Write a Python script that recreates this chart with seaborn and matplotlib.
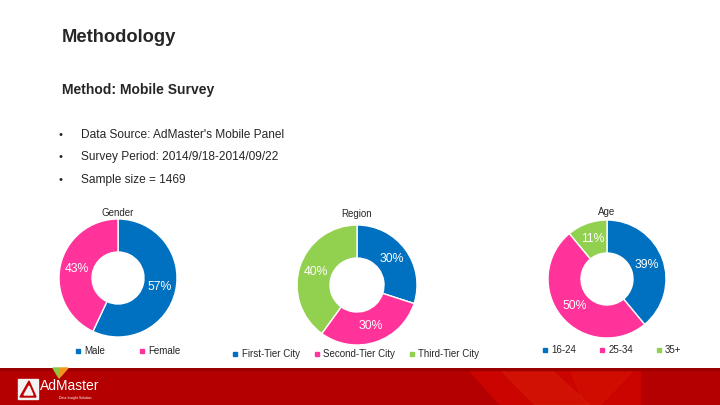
import matplotlib
matplotlib.use("Agg")
import matplotlib.pyplot as plt
import seaborn as sns
import numpy as np
from matplotlib.lines import Line2D
from matplotlib.patches import Rectangle, Polygon

sns.set_style("white")
plt.rcParams['font.family'] = ['Liberation Sans', 'DejaVu Sans']

# data
gender_labels = ['Male', 'Female']
gender_values = [57, 43]
region_labels = ['First-Tier City', 'Second-Tier City', 'Third-Tier City']
region_values = [30, 30, 40]
age_labels = ['16-24', '25-34', '35+']
age_values = [39, 50, 11]
bullets = ["Data Source: AdMaster's Mobile Panel",
           "Survey Period: 2014/9/18-2014/09/22",
           "Sample size = 1469"]

colors = ['#0070c0', '#ff3399', '#92d050']
W, H = 720, 405

fig = plt.figure(figsize=(7.2, 4.05), dpi=100)
fig.patch.set_facecolor('white')

# header texts
fig.text(62 / W, 1 - 37 / H, 'Methodology', fontsize=13.2, fontweight='bold', va='center')
fig.text(62 / W, 1 - 90 / H, 'Method: Mobile Survey', fontsize=10, fontweight='bold', va='center')
for i, b in enumerate(bullets):
    y = 1 - (135 + i * 22.5) / H
    fig.text(58 / W, y, '•', fontsize=8, va='center')
    fig.text(81 / W, y, b, fontsize=8.6, va='center')


def donut(cx, cy, r, hole, values, labels, title, title_y, leg_x, legend_y, colspace):
    ax = fig.add_axes([(cx - r) / W, (H - cy - r) / H, 2 * r / W, 2 * r / H])
    ax.pie(values, colors=colors[:len(values)], startangle=90,
           counterclock=False, radius=1,
           wedgeprops=dict(width=1 - hole / r, edgecolor='white', linewidth=1))
    ax.set_xlim(-1, 1)
    ax.set_ylim(-1, 1)
    ax.set_aspect('equal')
    ax.axis('off')
    start = 90.0
    tot = sum(values)
    mid_r = (1 + hole / r) / 2
    for v in values:
        ang = np.deg2rad(start - v / tot * 360 / 2)
        ax.text(mid_r * np.cos(ang), mid_r * np.sin(ang), f'{v}%', color='white',
                fontsize=8.8, ha='center', va='center')
        start -= v / tot * 360
    fig.text(cx / W, 1 - title_y / H, title, fontsize=7, ha='center', va='center')
    handles = [Line2D([], [], marker='s', linestyle='', markersize=3,
                      color=colors[i]) for i in range(len(values))]
    fig.legend(handles, labels, loc='center', bbox_to_anchor=(leg_x / W, 1 - legend_y / H),
               ncol=len(values), frameon=False, fontsize=7, handlelength=0.5,
               handletextpad=0.4, columnspacing=colspace)


donut(118, 278, 59, 26, gender_values, gender_labels, 'Gender', 213, 128, 351, 3.5)
donut(357, 285, 60, 27, region_values, region_labels, 'Region', 214, 356, 354, 1.5)
donut(607, 279, 59, 26, age_values, age_labels, 'Age', 212, 612, 350, 2.4)

# footer band
fax = fig.add_axes([0, 0, 1, 37 / H])
fax.set_xlim(0, W)
fax.set_ylim(0, 37)
fax.axis('off')
fax.add_patch(Rectangle((0, 0), W, 37, color='#b40000'))
fax.add_patch(Polygon([(468, 36), (640, 36), (640, 0), (500, 0)], color='#cc0400'))
fax.add_patch(Polygon([(500, 36), (550, 36), (590, 0), (535, 0)], color='#d82a0a', alpha=0.35))
fax.add_patch(Polygon([(570, 36), (635, 36), (600, 0), (585, 0)], color='#d81a00', alpha=0.35))
fax.add_patch(Rectangle((0, 35.5), W, 1.5, color='#9a0000'))
fax.add_patch(Rectangle((18, 6), 20, 20, color='#f2f2f2'))
fax.add_patch(Polygon([(20, 8), (29, 24), (36, 8)], color='#c00000'))
fax.add_patch(Polygon([(24, 10), (29, 19), (33, 10)], color='#f2f2f2'))
fax.text(40, 19, 'AdMaster', color='white', fontsize=10, va='center')
fax.text(59, 7.5, 'Data Insight Solution', color='white', fontsize=2.5, va='center')
# logo V
fig.patches.append(Polygon([(53 / W, 1 - 368 / H), (59 / W, 1 - 378 / H), (61 / W, 1 - 368 / H)],
                           closed=True, color='#8dc63f', transform=fig.transFigure))
fig.patches.append(Polygon([(61 / W, 1 - 368 / H), (59 / W, 1 - 378 / H), (68 / W, 1 - 368 / H)],
                           closed=True, color='#f7941d', transform=fig.transFigure))

fig.savefig('out.png', dpi=100)
